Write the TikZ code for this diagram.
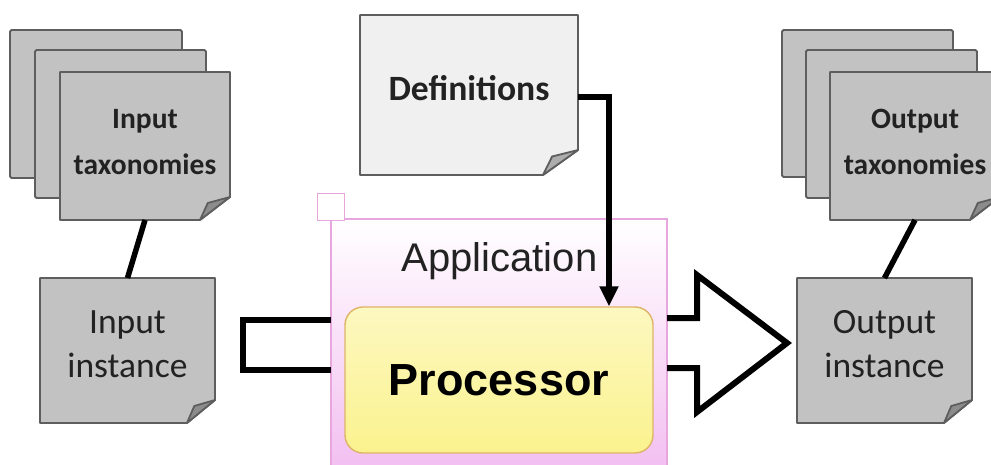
\documentclass[tikz,border=0pt]{standalone}
\usepackage{fontspec}
\setmainfont{Carlito}
\newfontfamily\arialf{Liberation Sans}
\usetikzlibrary{calc,arrows.meta}
\definecolor{pgray}{HTML}{C2C2C2}
\definecolor{plight}{HTML}{F0F0F0}
\definecolor{pedge}{HTML}{5E5E5E}
\definecolor{pinkline}{HTML}{E8A6DE}
\definecolor{pinkfill}{HTML}{F2BCF0}
\definecolor{yelltop}{HTML}{FCF8C0}
\definecolor{yellbot}{HTML}{FBF28E}
\definecolor{yelledge}{HTML}{DDB468}
\definecolor{textc}{HTML}{222222}
\newcommand\dogpage[4]{%
  \filldraw[pageline, fill=#2] let \p1=(#1.north west), \p2=(#1.south east) in
    (\x1,\y1) -- (\x2,\y1) -- (\x2,\y2+#4pt) -- (\x2-#3pt,\y2) -- (\x1,\y2) -- cycle;
  \filldraw[pageline, fill=#2!72!black] let \p1=(#1.north west), \p2=(#1.south east) in
    (\x2-#3pt,\y2) -- (\x2-0.74*#3pt,\y2+0.74*#4pt) -- (\x2,\y2+#4pt) -- cycle;
}
\begin{document}
\begin{tikzpicture}[x=1pt,y=-1pt,
  pageline/.style={draw=pedge, line width=1.8pt, line join=round},
  backpage/.style={pageline, fill=pgray, rounded corners=1.5pt},
  geom/.style={inner sep=0pt, outer sep=0pt},
  taxtext/.style={align=center, text=textc, font=\bfseries\fontsize{29.5}{46}\selectfont},
  insttext/.style={align=center, text=textc, font=\fontsize{35.5}{44}\selectfont},
  conn/.style={line width=5.5pt, black},
  hollow/.style={line width=6pt, black, line join=miter}
]
\path[use as bounding box, clip] (0,0) rectangle (991,464);

% geometry nodes
\node[geom, minimum width=170pt, minimum height=148pt] (intax) at (145,146) {};
\node[geom, minimum width=175pt, minimum height=145pt] (ininst) at (127.5,350.5) {};
\node[geom, minimum width=218pt, minimum height=160pt] (defs) at (469,95) {};
\node[geom, minimum width=170pt, minimum height=148pt] (otax) at (915,146) {};
\node[geom, minimum width=175pt, minimum height=145pt] (oinst) at (884.5,350.5) {};

% application box
\node[geom, draw=pinkline, line width=1.5pt, top color=white, bottom color=pinkfill,
      minimum width=336pt, minimum height=261pt] (app) at (499,349.5) {};
\node[draw=pinkline, line width=1.5pt, fill=white, minimum size=27pt, inner sep=0pt]
      (appsq) at ($(app.north west)+(0,-12)$) {};
\node[anchor=base, font=\arialf\fontsize{40}{48}\selectfont, text=textc] (applbl) at (499.5,271) {Application};

% hollow arrows
\draw[hollow] (app.west |- 0,320) -- (243,320) -- (243,370) -- (app.west |- 0,370);
\coordinate (otip) at (787,343);
\draw[hollow] (app.east |- 0,318) -- (697,318) -- (697,275) -- (otip) -- (697,412) -- (697,368) -- (app.east |- 0,368);

% processor
\node[draw=yelledge, line width=1.4pt, rounded corners=18pt, top color=yelltop, bottom color=yellbot,
      minimum width=308pt, minimum height=146pt, inner sep=0pt, text depth=-3pt,
      font=\arialf\bfseries\fontsize{45}{54}\selectfont, text=black] (proc) at (499,380) {Processor};

% input taxonomies stack
\draw[backpage] (10,30) rectangle (182,178);
\draw[backpage] (35,50) rectangle (206,198);
\dogpage{intax}{pgray}{30}{23}
\node[taxtext] (intaxlbl) at (145,142) {Input\\taxonomies};

% output taxonomies stack
\draw[backpage] (782,30) rectangle (953,177);
\draw[backpage] (806,50) rectangle (977,198);
\dogpage{otax}{pgray}{30}{23}
\node[taxtext] (otaxlbl) at (915,142) {Output\\taxonomies};

% instances
\dogpage{ininst}{pgray}{28}{23}
\node[insttext] (ininstlbl) at (127.5,344) {Input\\instance};
\dogpage{oinst}{pgray}{28}{23}
\node[insttext] (oinstlbl) at (884.5,344) {Output\\instance};

% definitions
\dogpage{defs}{plight}{35}{25}
\node[text=textc, font=\bfseries\fontsize{35.6}{43}\selectfont] (defslbl) at (469,88) {Definitions};

% connectors
\draw[conn] (intax.south) -- (ininst.north);
\draw[conn] (otax.south) -- (oinst.north);
\coordinate (dturn) at ($(defs.east)+(31,2)$);
\draw[conn, line join=miter, -{Triangle[length=20pt,width=18pt]}] (defs.east |- dturn) -- (dturn) -- (dturn |- proc.north);
\end{tikzpicture}
\end{document}
